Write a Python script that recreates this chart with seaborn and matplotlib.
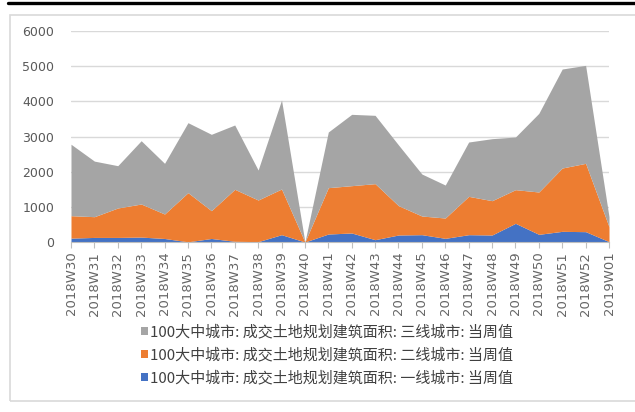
import matplotlib
matplotlib.use("Agg")
import matplotlib.pyplot as plt
from matplotlib.patches import Rectangle
from matplotlib.lines import Line2D
import seaborn as sns
import pandas as pd

weeks = ["2018W30", "2018W31", "2018W32", "2018W33", "2018W34", "2018W35",
         "2018W36", "2018W37", "2018W38", "2018W39", "2018W40", "2018W41",
         "2018W42", "2018W43", "2018W44", "2018W45", "2018W46", "2018W47",
         "2018W48", "2018W49", "2018W50", "2018W51", "2018W52", "2019W01"]

# 当周值（万平方米），按城市线级拆分
tier1 = [110, 130, 130, 140, 100, 5, 100, 20, 10, 208, 0, 227,
         256, 66, 199, 208, 104, 208, 199, 531, 218, 303, 294, 10]
tier2 = [638, 590, 837, 940, 696, 1398, 791, 1478, 1184, 1299, 0, 1318,
         1346, 1593, 834, 531, 578, 1090, 976, 957, 1204, 1801, 1943, 425]
tier3 = [2032, 1580, 1203, 1800, 1441, 1990, 2171, 1829, 853, 2530, 0, 1583,
         2028, 1943, 1727, 1194, 938, 1545, 1763, 1497, 2236, 2815, 2786, 285]

labels = ["100大中城市: 成交土地规划建筑面积: 一线城市: 当周值",
          "100大中城市: 成交土地规划建筑面积: 二线城市: 当周值",
          "100大中城市: 成交土地规划建筑面积: 三线城市: 当周值"]
colors = ["#4472C4", "#ED7D31", "#A5A5A5"]

df = pd.DataFrame({"week": weeks, "t1": tier1, "t2": tier2, "t3": tier3})

sns.set_theme(style="white")
plt.rcParams["font.family"] = ["DejaVu Sans", "Noto Sans CJK SC"]

fig = plt.figure(figsize=(6.35, 4.12), dpi=100)

# outer frame and top rule
fig.add_artist(Rectangle((10 / 635, 1 - 401 / 412), 640 / 635, 386 / 412,
                         transform=fig.transFigure, fill=False,
                         edgecolor="#D9D9D9", linewidth=1.2))
fig.add_artist(Line2D([8 / 635, 1], [1 - 3 / 412, 1 - 3 / 412],
                      transform=fig.transFigure, color="black", linewidth=2.4))

ax = fig.add_axes([71 / 635, 1 - 242 / 412, 538 / 635, 211 / 412])
x = list(range(len(df)))
ax.stackplot(x, df["t1"], df["t2"], df["t3"], colors=colors,
             labels=labels, linewidth=0)

ax.set_xlim(0, len(df) - 1)
ax.set_ylim(0, 6000)
ax.set_yticks(range(0, 6001, 1000))
ax.yaxis.grid(True, color="#D9D9D9", linewidth=1)
ax.set_axisbelow(True)
ax.set_xticks(x)
ax.set_xticklabels(df["week"], rotation=90, fontsize=9.5, color="#666666")
ax.tick_params(axis="y", labelsize=9, colors="#595959", length=0, pad=12)
ax.tick_params(axis="x", bottom=True, length=4, width=0.8, color="#BFBFBF",
               pad=3)
for side in ["left", "right", "top"]:
    ax.spines[side].set_visible(False)
ax.spines["bottom"].set_color("#BFBFBF")
ax.spines["bottom"].set_linewidth(0.8)
ax.set_xlabel("")
ax.set_ylabel("")

handles, labs = ax.get_legend_handles_labels()
leg = fig.legend(handles[::-1], labs[::-1], loc="center",
                 bbox_to_anchor=(327 / 635, 1 - 355 / 412), ncol=1,
                 frameon=False, handlelength=0.5,
                 handleheight=0.5, handletextpad=0.15, labelspacing=0.55,
                 prop={"family": ["Noto Sans CJK SC", "DejaVu Sans"], "size": 10.8})
for t in leg.get_texts():
    t.set_color("#404040")

fig.savefig("out.png", dpi=100)
